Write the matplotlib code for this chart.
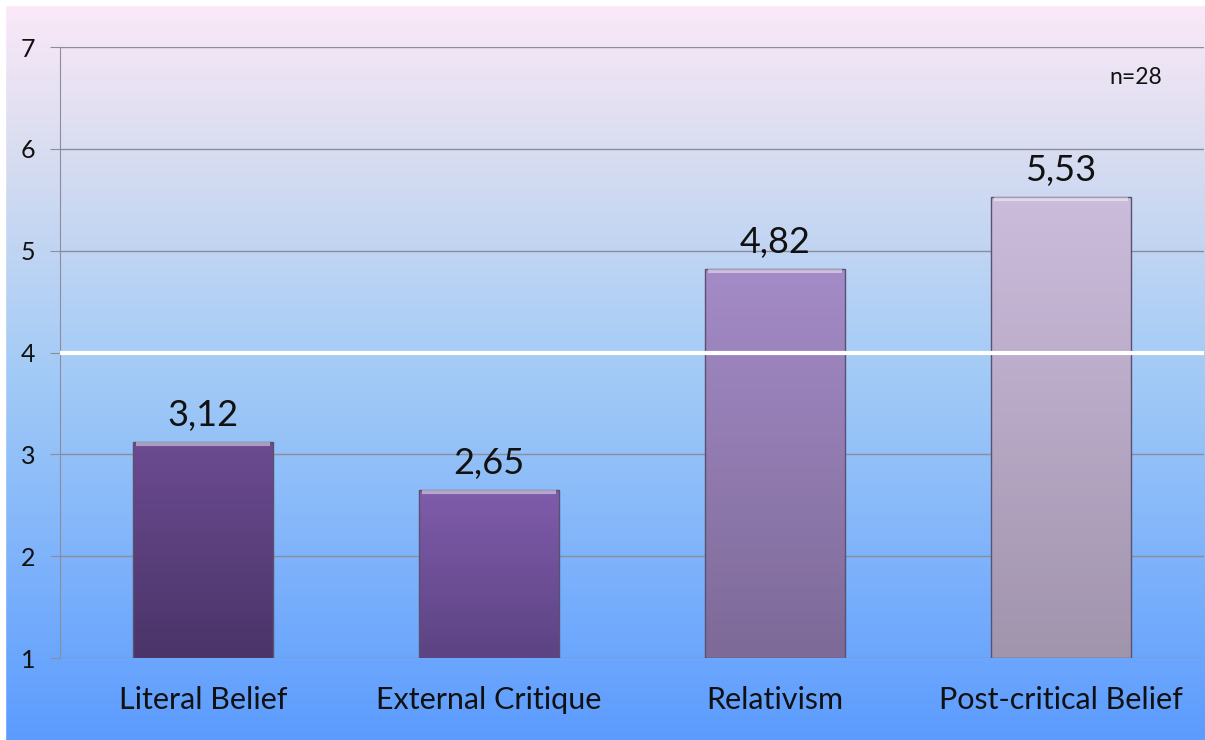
import numpy as np
import matplotlib.pyplot as plt
from matplotlib.colors import LinearSegmentedColormap

categories = ['Literal Belief', 'External Critique', 'Relativism', 'Post-critical Belief']
values = [3.12, 2.65, 4.82, 5.53]
labels = ['3,12', '2,65', '4,82', '5,53']
# top / bottom colour of each bar
bar_top = ['#6b4b91', '#805cab', '#a48bc7', '#ccbcdc']
bar_bottom = ['#4a3468', '#5c4383', '#7d6a98', '#a194ad']
ref_line = 4
n_note = 'n=28'

plt.rcParams['font.family'] = ['Lato', 'DejaVu Sans']

fig = plt.figure(figsize=(12.05, 7.4), dpi=100)

# background gradient over the whole figure
bg = fig.add_axes([0, 0, 1, 1], zorder=-10)
bg_cmap = LinearSegmentedColormap.from_list('bg', [
    (0.0, '#fce9f8'), (0.2, '#d9ddf0'), (0.5, '#a3cbf6'), (1.0, '#5c9cff')])
grad = np.linspace(0, 1, 256).reshape(-1, 1)
bg.imshow(grad, aspect='auto', cmap=bg_cmap, extent=[0, 1, 0, 1], origin='upper')
bg.axhspan(0.993, 1, color='white')
bg.axvspan(0, 5 / 1205, color='white')
bg.set_xlim(0, 1)
bg.set_ylim(0, 1)
bg.axis('off')

ax = fig.add_axes([60 / 1205, 1 - 658 / 740, 1144 / 1205, 611 / 740])
ax.patch.set_alpha(0)
x = np.arange(len(categories))
bars = ax.bar(x, [v - 1 for v in values], bottom=1, width=0.49,
              color='none', edgecolor='#5a5070', linewidth=1.0, zorder=3)

for b, top, bot in zip(bars, bar_top, bar_bottom):
    x0, y0 = b.get_x(), b.get_y()
    w, h = b.get_width(), b.get_height()
    cm = LinearSegmentedColormap.from_list('b', [bot, top])
    im = ax.imshow(np.linspace(1, 0, 100).reshape(-1, 1), cmap=cm, aspect='auto',
                   extent=[x0, x0 + w, y0, y0 + h], zorder=2, vmin=0, vmax=1)
    im.set_clip_path(b)
    # light highlight on top edge
    ax.plot([x0 + 0.01, x0 + w - 0.01], [y0 + h - 0.02, y0 + h - 0.02],
            color='white', alpha=0.45, lw=3, zorder=4, solid_capstyle='butt')

for xi, v, lab in zip(x, values, labels):
    ax.text(xi, v + 0.1, lab, ha='center', va='bottom', fontsize=26, color='#111111')

ax.set_xlim(-0.5, 3.5)
ax.set_ylim(1, 7)
ax.set_yticks(range(1, 8))
ax.set_xticks(x)
ax.set_xticklabels(categories, fontsize=22, color='#111111')
ax.tick_params(axis='y', labelsize=18, length=7, color='#8c8c9c', pad=11, labelcolor='#111111')
ax.tick_params(axis='x', length=0, pad=20)
ax.grid(axis='y', color='#8c8c9c', lw=1, zorder=1)
ax.set_axisbelow(True)
for s in ['top', 'right', 'bottom']:
    ax.spines[s].set_visible(False)
ax.spines['left'].set_color('#8c8c9c')

ax.axhline(ref_line, color='white', lw=3, zorder=5)
ax.text(0.963, 0.95, n_note, transform=ax.transAxes, ha='right', va='center',
        fontsize=16.5, color='#111111')

fig.savefig('out.png', dpi=100)
